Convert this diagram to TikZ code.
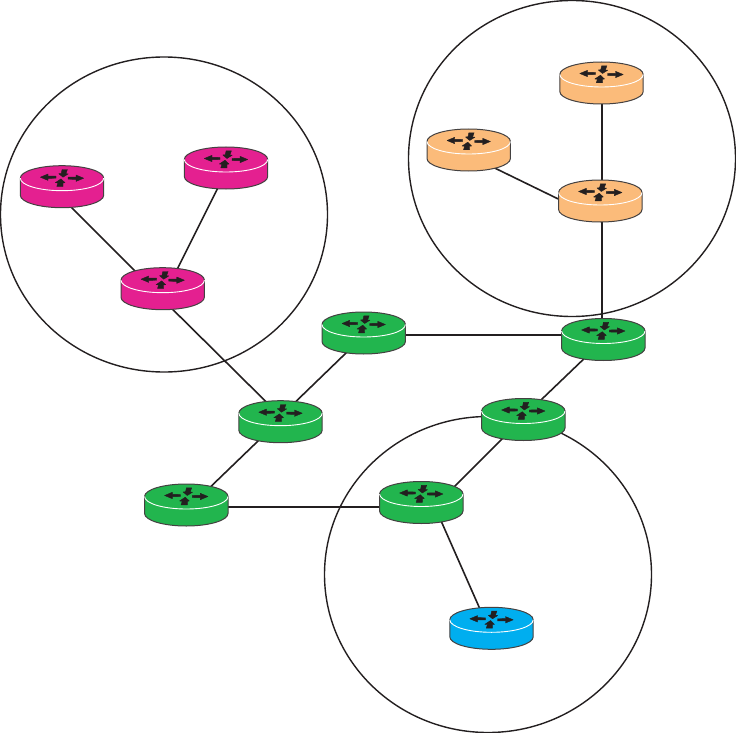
\documentclass[tikz,border=0pt]{standalone}
\usetikzlibrary{calc}
\definecolor{rgreen}{RGB}{34,181,78}
\definecolor{rmag}{RGB}{228,32,144}
\definecolor{rorange}{RGB}{251,187,122}
\definecolor{rblue}{RGB}{0,174,239}
\definecolor{ink}{RGB}{35,31,32}
\tikzset{
  x=1pt,y=-1pt,
  link/.style={draw=ink,line width=1.6pt,shorten <=-3pt,shorten >=-3pt},
  region/.style={draw=ink,line width=1.4pt},
  anchorbox/.style={inner sep=0pt,minimum width=84pt,minimum height=42pt,draw=none},
  glyph/.style={fill=ink,draw=ink,line width=.4pt,line join=round},
}
\newcommand{\routernode}[3]{\node[anchorbox] (#1) at (#2,#3) {};}
\newcommand{\linkup}[6]{\draw[link] ($(#1)+(#2,#3)$) -- ($(#4)+(#5,#6)$);}
\newcommand{\drawrouter}[2]{%
  \begin{scope}[shift={(#1)}]
    \path[fill=#2,draw=ink!85,line width=1pt] (-41.7,-8.5) -- (-41.7,8.5) arc[start angle=180,end angle=360,x radius=41.7pt,y radius=12.5pt] -- (41.7,-8.5) arc[start angle=0,end angle=180,x radius=41.7pt,y radius=12.5pt] -- cycle;
    \draw[white,line width=.9pt] (-41.7,-8.5) arc[start angle=180,end angle=360,x radius=41.7pt,y radius=12.5pt];
    \begin{scope}[yshift=8.5pt]
    \fill[glyph] (-21.7,-1) -- (-14,-4.2) -- (-14,-2.2) -- (-6,-2) -- (-6,0) -- (-14,.2) -- (-14,2.2) -- cycle;
    \fill[glyph] (21.7,0) -- (14,-3.2) -- (14,-1.2) -- (6,-1) -- (6,1) -- (14,1.2) -- (14,3.2) -- cycle;
    \fill[glyph] (1,-1) -- (-3.2,-4.5) -- (-.7,-4.8) -- (.1,-8.7) -- (5.4,-8.7) -- (3.9,-4.5) -- (6.2,-4.3) -- cycle;
    \fill[glyph] (-1,.7) -- (3,4.5) -- (1,4.7) -- (1,8.3) -- (-5.2,8.3) -- (-4.1,4.7) -- (-6.7,4.5) -- cycle;
    \end{scope}
  \end{scope}}
\begin{document}
\begin{tikzpicture}
\useasboundingbox (0,0) rectangle (736,733);
\routernode{ma}{62}{186.7}
\routernode{mb}{226}{168}
\routernode{mc}{162.7}{288.7}
\routernode{oa}{601.5}{83}
\routernode{ob}{468.7}{150}
\routernode{oc}{600.3}{201}
\routernode{ga}{363.7}{333}
\routernode{gb}{603.3}{339.5}
\routernode{gc}{280.5}{421.7}
\routernode{gd}{523.3}{419.5}
\routernode{ge}{186.3}{505}
\routernode{gf}{421.3}{502.5}
\routernode{ba}{491.5}{628.3}
\draw[region] (164,214.5) ellipse[x radius=163.5pt,y radius=157.5pt];
\draw[region] (572,158.5) ellipse[x radius=163.5pt,y radius=158pt];
\draw[region] (488,574.5) ellipse[x radius=163.5pt,y radius=158pt];
\linkup{ma}{9.7}{21}{mc}{-28.7}{-18.7}
\linkup{mb}{-8.7}{21}{mc}{15}{-20.4}
\linkup{mc}{10.6}{21.3}{gc}{-15.5}{-21}
\linkup{oa}{0.2}{21}{oc}{1.4}{-21}
\linkup{ob}{28}{19}{oc}{-42}{-2}
\linkup{oc}{1.4}{21}{gb}{-1.6}{-21}
\linkup{ga}{41.3}{2}{gb}{-41.7}{-4.5}
\linkup{ga}{-18}{20.3}{gc}{16.2}{-21}
\linkup{gb}{-20.6}{20.5}{gd}{18.4}{-20.2}
\linkup{gc}{-23.2}{20}{ge}{25.4}{-19.3}
\linkup{gd}{-21.3}{19.5}{gf}{33.7}{-16.5}
\linkup{ge}{41.7}{2}{gf}{-41.3}{4.5}
\linkup{gf}{20.7}{20.5}{ba}{-12}{-20.3}
\foreach \n/\c in {ma/rmag,mb/rmag,mc/rmag,oa/rorange,ob/rorange,oc/rorange,ga/rgreen,gb/rgreen,gc/rgreen,gd/rgreen,ge/rgreen,gf/rgreen,ba/rblue}{\drawrouter{\n}{\c}}
\end{tikzpicture}
\end{document}
